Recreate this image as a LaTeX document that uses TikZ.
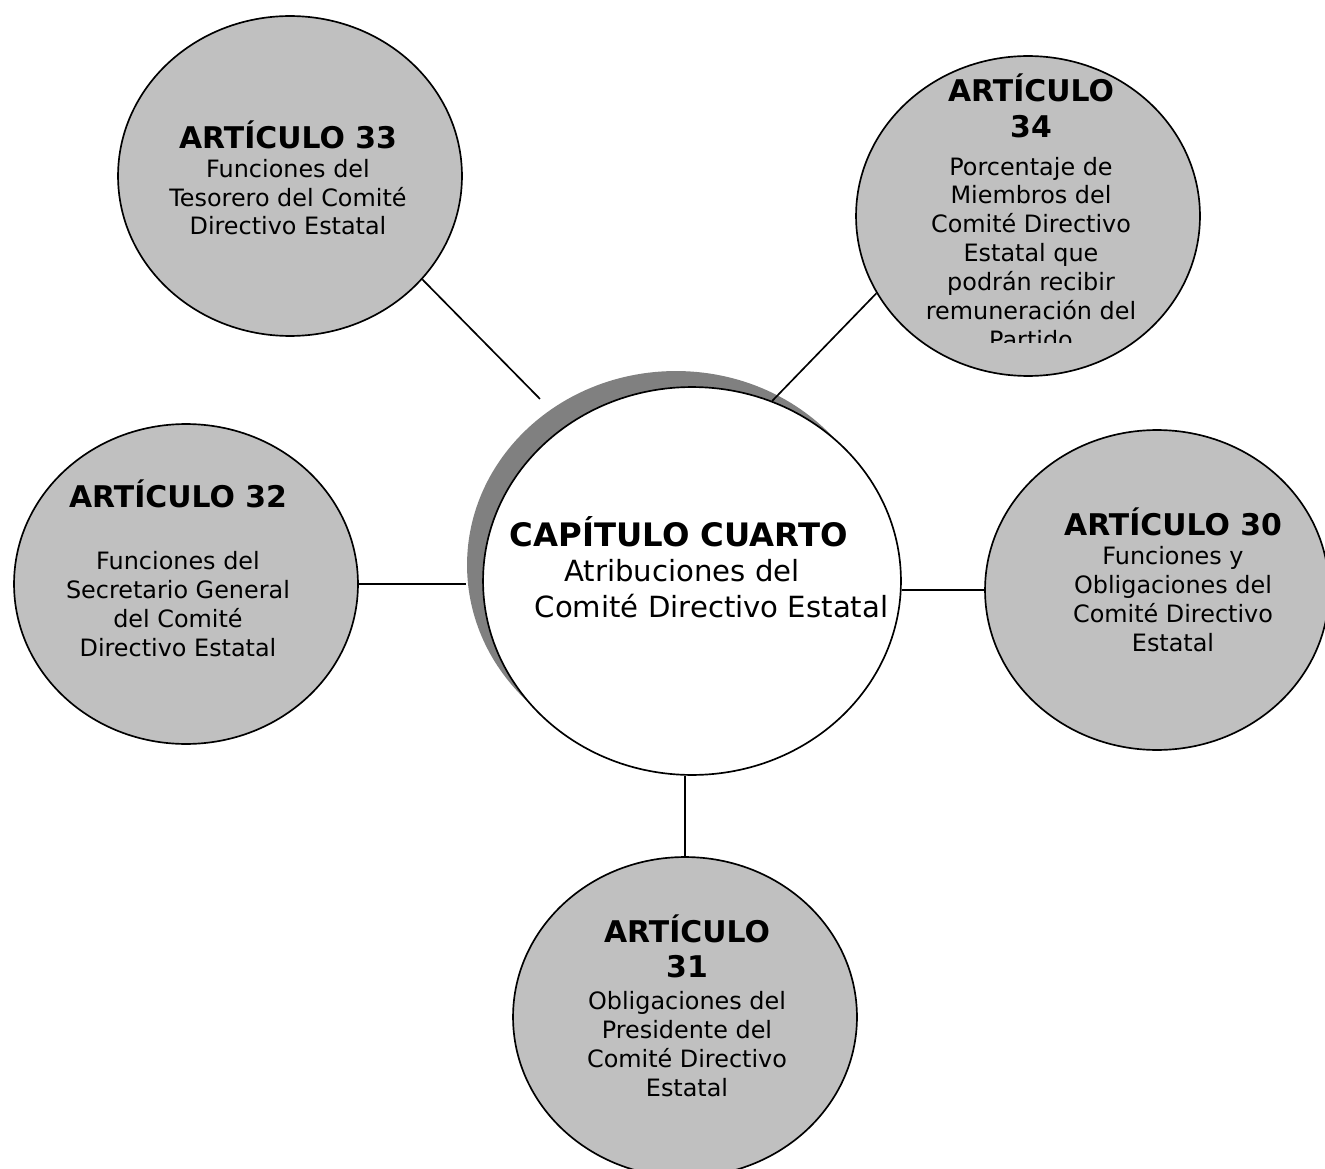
\documentclass[tikz,border=0pt]{standalone}
\usepackage{fontspec}
\setmainfont{DejaVu Sans}
\usepackage{xcolor}
\usetikzlibrary{shapes.geometric, positioning}
\definecolor{artgray}{HTML}{C0C0C0}
\definecolor{capshade}{HTML}{808080}
\newcommand{\arttitle}{\fontsize{17}{20}\selectfont\bfseries}
\newcommand{\captitle}{\fontsize{18.4}{22}\selectfont\bfseries}
\tikzset{
	artnode/.style={ellipse, draw, fill=artgray, minimum width=6.88cm, minimum height=6.4cm, inner sep=0pt},
	arttext/.style={align=center, anchor=base, inner sep=0pt, font=\fontsize{13.6}{16.4}\selectfont},
	capnode/.style={ellipse, minimum width=8.36cm, minimum height=7.76cm, inner sep=0pt}
}

\begin{document}
\begin{tikzpicture}[-, x=0.02cm, y=-0.02cm, line width=0.95pt]
			\useasboundingbox (0,0) rectangle (1325,1169);
			\node[capnode, fill=capshade] (capsh) at (676,565) {};
			\node[capnode, draw, fill=white] (cap) at (692,581) {};
			\node[align=left, anchor=base west, inner sep=0pt, font=\fontsize{16.6}{20}\selectfont] (captext) at (509,617) {{\captitle CAPÍTULO CUARTO}\\\hspace*{31pt}Atribuciones del\\\hspace*{14.2pt}Comité Directivo Estatal};
			
			\node[artnode] (a33) at (290,176) {};
			\node[artnode] (a34) at (1028,216) {};
			\node[artnode] (a32) at (186,584) {};
			\node[artnode] (a30) at (1157,590) {};
			\node[artnode] (a31) at (685,1017) {};
			
			\node[arttext] (a33t) at (288,235) {{\arttitle ARTÍCULO 33}\\Funciones del\\Tesorero del Comité\\Directivo Estatal};
			\begin{scope}
				\clip (840,40) rectangle (1210,342);
				\node[arttext] (a34t) at (1031,348) {{\arttitle ARTÍCULO}\\[4pt]{\arttitle 34}\\[5.1pt]Porcentaje de\\Miembros del\\Comité Directivo\\Estatal que\\podrán recibir\\remuneración del\\Partido};
			\end{scope}
			\node[arttext] (a32t) at (178,656) {{\arttitle ARTÍCULO 32}\\[18.8pt]Funciones del\\Secretario General\\del Comité\\Directivo Estatal};
			\node[arttext] (a30t) at (1173,651) {{\arttitle ARTÍCULO 30}\\Funciones y\\Obligaciones del\\Comité Directivo\\Estatal};
			\node[arttext] (a31t) at (687,1096) {{\arttitle ARTÍCULO}\\[3.4pt]{\arttitle 31}\\[1.7pt]Obligaciones del\\Presidente del\\Comité Directivo\\Estatal};
			
			\draw (a33.-38) edge[shorten >=0.74cm] (cap.129.5);
			\draw (a34.207) edge[] (cap.66);
			\draw (a32.east) edge[] (a32.east -| capsh.west);
			\draw (a30.west) edge[] (a30.west -| cap.east);
			\draw (a31.north) edge[] (a31.north |- cap.south);
			
		\end{tikzpicture}
\end{document}
